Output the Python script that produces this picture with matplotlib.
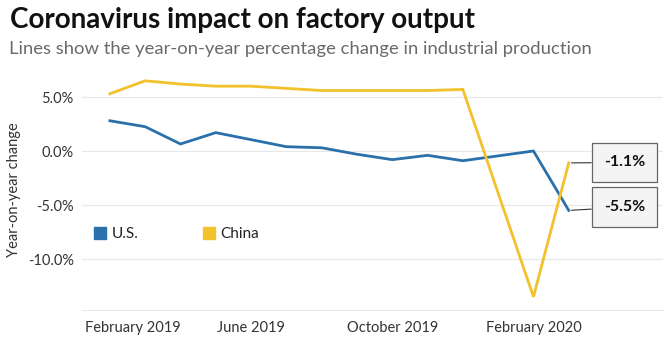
import numpy as np
import matplotlib
matplotlib.use("Agg")
import matplotlib.pyplot as plt
from matplotlib.lines import Line2D
from matplotlib.transforms import ScaledTranslation

# months from February 2019 to March 2020
months = ["Feb 2019", "Mar 2019", "Apr 2019", "May 2019", "Jun 2019", "Jul 2019",
          "Aug 2019", "Sep 2019", "Oct 2019", "Nov 2019", "Dec 2019", "Jan 2020",
          "Feb 2020", "Mar 2020"]
us = [2.8, 2.25, 0.65, 1.7, 1.05, 0.4, 0.3, -0.3, -0.8, -0.4, -0.9, -0.45, 0.0, -5.5]
china = [5.3, 6.5, 6.2, 6.0, 6.0, 5.8, 5.6, 5.6, 5.6, 5.6, 5.7, None, -13.5, -1.1]

tick_months = ["Feb 2019", "Jun 2019", "Oct 2019", "Feb 2020"]
tick_labels = ["February 2019", "June 2019", "October 2019", "February 2020"]
yticks = [5, 0, -5, -10]

US_COL = "#2a70aa"
CN_COL = "#f2c12b"

plt.rcParams['font.family'] = ['Lato', 'DejaVu Sans']

fig = plt.figure(figsize=(6.68, 3.42), dpi=100)
ax = fig.add_axes([82 / 668, 1 - 310 / 342, 581 / 668, 240 / 342])

x = np.arange(len(months))
ax.plot(x, us, color=US_COL, lw=2.0, solid_joinstyle='miter')
cx = [i for i, v in enumerate(china) if v is not None]
cy = [v for v in china if v is not None]
ax.plot(cx, cy, color=CN_COL, lw=2.0, solid_joinstyle='miter')

ax.set_ylim(-14.72, 7.5)
ax.set_xlim(-0.79, 15.67)

ax.set_yticks(yticks, [f"{v:.1f}%" for v in yticks])
ax.set_xticks([months.index(m) for m in tick_months], tick_labels)
ax.grid(axis='y', color='#e8e8e8', lw=0.9)
ax.set_axisbelow(True)
for s in ['top', 'right', 'left']:
    ax.spines[s].set_visible(False)
ax.spines['bottom'].set_color('#e8e8e8')
ax.tick_params(axis='both', length=0, labelsize=10.5, colors='#333333')
ax.tick_params(axis='x', pad=8)
ax.tick_params(axis='y', pad=6)

# first x label is pushed right to stay inside the plot
lab0 = ax.get_xticklabels()[0]
lab0.set_horizontalalignment('left')
lab0.set_transform(lab0.get_transform() + ScaledTranslation(-0.25, 0, fig.dpi_scale_trans))

ax.set_ylabel("Year-on-year change", fontsize=10.5, color='#333333', labelpad=5)

handles = [Line2D([], [], ls='none', marker='s', markersize=8.5, color=US_COL),
           Line2D([], [], ls='none', marker='s', markersize=8.5, color=CN_COL)]
ax.legend(handles, ["U.S.", "China"], loc='center left', bbox_to_anchor=(-0.003, 0.317),
          ncol=2, frameon=False, fontsize=11, handlelength=0.8, handletextpad=0.35,
          columnspacing=4.2, labelcolor='#222222')

# end labels
last = len(months) - 1
for val, dy in [(china[last], 0.3), (us[last], 2.3)]:
    ax.annotate(f"{val:.1f}%", xy=(last, val), xytext=(40, dy), textcoords='offset points',
                ha='center', va='center', fontsize=11.5, fontweight='bold', color='#111111',
                bbox=dict(boxstyle='square,pad=0.75', fc='#f4f4f4', ec='#666666', lw=0.9,
                          mutation_aspect=1.08),
                arrowprops=dict(arrowstyle='-', color='#333333', lw=0.8, shrinkA=0, shrinkB=2))

fig.text(10 / 668, 1 - 28 / 342, "Coronavirus impact on factory output", fontsize=20,
         fontweight='bold', color='#111111', va='baseline', ha='left')
fig.text(9 / 668, 1 - 54 / 342, "Lines show the year-on-year percentage change in industrial production",
         fontsize=13.3, color='#6a6a6a', va='baseline', ha='left')

fig.savefig("out.png", dpi=100)
